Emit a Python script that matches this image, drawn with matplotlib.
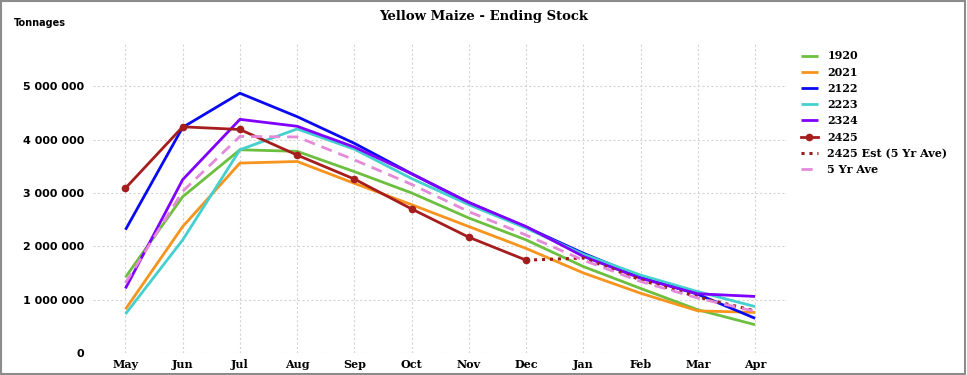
import matplotlib
matplotlib.use("Agg")
import matplotlib.pyplot as plt
from matplotlib.patches import Rectangle
from matplotlib.ticker import FuncFormatter

months = ["May", "Jun", "Jul", "Aug", "Sep", "Oct", "Nov", "Dec", "Jan", "Feb", "Mar", "Apr"]

# ending stock per season (tonnes)
s1920 = [1420000, 2930000, 3810000, 3780000, 3400000, 3000000, 2530000, 2120000, 1620000, 1210000, 810000, 530000]
s2021 = [820000, 2370000, 3560000, 3590000, 3180000, 2780000, 2370000, 1960000, 1500000, 1120000, 790000, 760000]
s2122 = [2310000, 4230000, 4870000, 4430000, 3930000, 3360000, 2820000, 2360000, 1870000, 1430000, 1100000, 650000]
s2223 = [730000, 2120000, 3810000, 4200000, 3820000, 3270000, 2780000, 2340000, 1850000, 1460000, 1150000, 870000]
s2324 = [1210000, 3250000, 4380000, 4250000, 3860000, 3360000, 2820000, 2370000, 1810000, 1400000, 1110000, 1060000]
s2425 = [3090000, 4240000, 4190000, 3710000, 3260000, 2700000, 2170000, 1740000]
s2425_est = [None] * 7 + [1740000, 1780000, 1370000, 1050000, 790000]
ave5 = [1310000, 3030000, 4060000, 4050000, 3620000, 3160000, 2650000, 2210000, 1740000, 1340000, 1030000, 780000]

series = [
    ("1920", s1920, "#6cbf3f"),
    ("2021", s2021, "#f7941d"),
    ("2122", s2122, "#0a0af0"),
    ("2223", s2223, "#45d0d0"),
    ("2324", s2324, "#8000ff"),
]

fig = plt.figure(figsize=(9.67, 3.75), dpi=100)
ax = fig.add_axes([0.096, 0.0587, 0.718, 0.8293])

x = list(range(len(months)))
for name, vals, col in series:
    ax.plot(x, vals, color=col, lw=2.0, label=name, solid_capstyle="butt")

ax.plot(x[:len(s2425)], s2425, color="#a51d1d", lw=2.0, marker="o", markersize=4.5, label="2425")
est_x = [i for i, v in enumerate(s2425_est) if v is not None]
est_y = [v for v in s2425_est if v is not None]
ax.plot(est_x, est_y, color="#9a1a1a", lw=2.2, linestyle=(0, (1, 1.6)), label="2425 Est (5 Yr Ave)")
ax.plot(x, ave5, color="#e38ad8", lw=2.0, linestyle=(0, (4, 2.5)), label="5 Yr Ave")

ax.set_xlim(-0.57, 11.56)
ax.set_ylim(0, 5830000)
ax.set_yticks([0, 1000000, 2000000, 3000000, 4000000, 5000000])
ax.yaxis.set_major_formatter(FuncFormatter(lambda v, p: f"{int(v):,}".replace(",", " ")))
ax.set_xticks(x)
ax.set_xticklabels(months, fontfamily="DejaVu Serif", fontweight="bold", fontsize=8)
for lbl in ax.get_yticklabels():
    lbl.set_fontweight("bold")
    lbl.set_fontsize(8)
ax.tick_params(axis="both", length=0)
ax.tick_params(axis="y", pad=6)
ax.tick_params(axis="x", pad=4)
ax.grid(True, color="#d4d4d4", linestyle=(0, (2, 2)), lw=0.8)
for sp in ax.spines.values():
    sp.set_visible(False)

leg = ax.legend(loc="upper left", bbox_to_anchor=(1.005, 1.005), frameon=False,
                prop={"family": "DejaVu Serif", "weight": "bold", "size": 8},
                handlelength=1.6, labelspacing=0.47, handletextpad=0.8)

fig.text(0.5, 0.955, "Yellow Maize - Ending Stock", ha="center", va="center",
         fontfamily="DejaVu Serif", fontweight="bold", fontsize=9.5)
fig.text(0.014, 0.94, "Tonnages", ha="left", va="center", fontweight="bold", fontsize=7)

fig.patches.append(Rectangle((0.001, 0.002), 0.997, 0.995, transform=fig.transFigure,
                             fill=False, edgecolor="#8c8c8c", lw=1.5))

fig.savefig("out.png", dpi=100)
